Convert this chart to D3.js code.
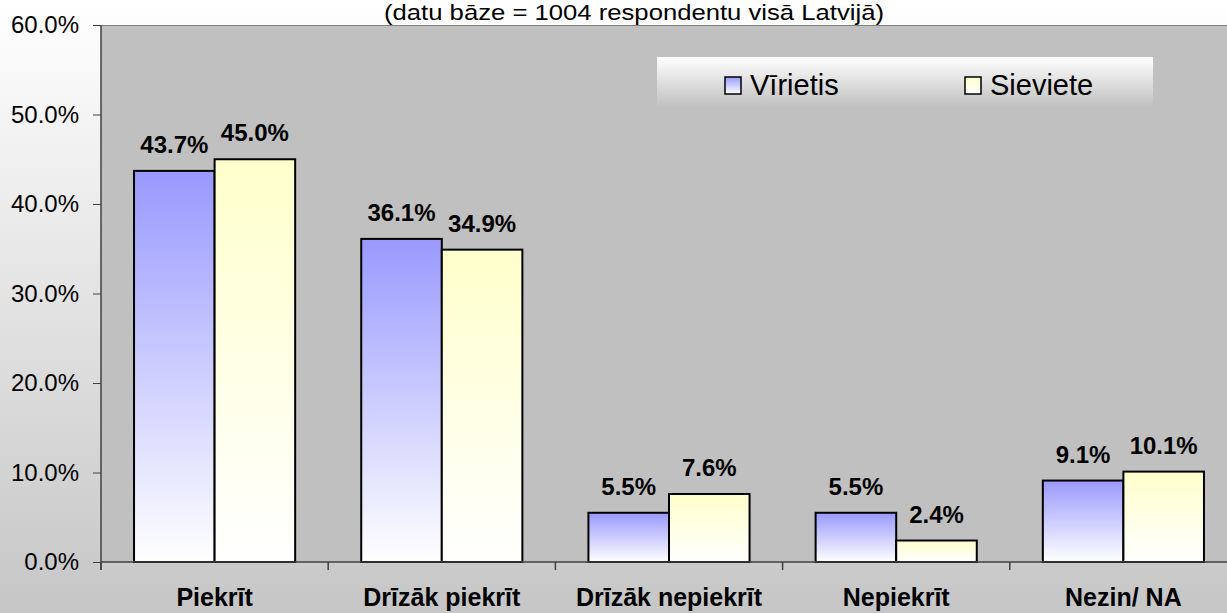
<!DOCTYPE html>
<html>
<head>
<meta charset="utf-8">
<script src="https://cdn.jsdelivr.net/npm/d3@7"></script>
<style>
  body { margin: 0; overflow: hidden; }
  svg { display: block; font-family: Arial, "Liberation Sans", sans-serif; }
</style>
</head>
<body>
<svg id="chart" width="1227" height="613"></svg>
<script>
const categories = ["Piekrīt", "Drīzāk piekrīt", "Drīzāk nepiekrīt", "Nepiekrīt", "Nezin/ NA"];
const seriesNames = ["Vīrietis", "Sieviete"];
const men = [43.7, 36.1, 5.5, 5.5, 9.1];
const women = [45.0, 34.9, 7.6, 2.4, 10.1];
const yTicks = [0, 10, 20, 30, 40, 50, 60];
const subtitle = "(datu bāze = 1004 respondentu visā Latvijā)";

const W = 1227, H = 613;
const margin = { top: 25, left: 101, bottom: 51 };
const bandW = 227.2;
const svg = d3.select("#chart");
const defs = svg.append("defs");

function vGrad(id, top, bottom) {
  const g = defs.append("linearGradient").attr("id", id)
    .attr("x1", 0).attr("y1", 0).attr("x2", 0).attr("y2", 1);
  g.append("stop").attr("offset", "0%").attr("stop-color", top);
  g.append("stop").attr("offset", "100%").attr("stop-color", bottom);
}
vGrad("bgGrad", "#ffffff", "#c6c6c6");
vGrad("legGrad", "#ffffff", "#c0c0c0");
vGrad("menGrad", "#9999ff", "#ffffff");
vGrad("womenGrad", "#ffffcc", "#ffffff");
const fills = ["url(#menGrad)", "url(#womenGrad)"];

// page background
svg.append("rect").attr("width", W).attr("height", H).attr("fill", "url(#bgGrad)");

const x = d3.scaleBand()
  .domain(categories)
  .range([margin.left, margin.left + bandW * categories.length]);
const y = d3.scaleLinear().domain([0, 60]).range([H - margin.bottom, margin.top]);
const x1 = d3.scaleBand().domain(seriesNames).range([0, x.bandwidth()]).paddingOuter(0.41).paddingInner(0);

// plot area
svg.append("rect")
  .attr("x", margin.left).attr("y", y(60))
  .attr("width", W - margin.left).attr("height", y(0) - y(60))
  .attr("fill", "#c0c0c0");
svg.append("line")
  .attr("x1", margin.left).attr("x2", W)
  .attr("y1", y(60) + 0.5).attr("y2", y(60) + 0.5)
  .attr("stroke", "#808080").attr("stroke-width", 1);

// subtitle - wider face in the original, so stretch it
svg.append("text")
  .attr("x", 634).attr("y", 20)
  .attr("text-anchor", "middle")
  .attr("textLength", 500)
  .attr("lengthAdjust", "spacingAndGlyphs")
  .style("font-size", "22px")
  .attr("fill", "#000")
  .text(subtitle);

// bars
const rows = categories.map((c, i) => ({ cat: c, vals: [men[i], women[i]] }));
const groups = svg.append("g").selectAll("g")
  .data(rows)
  .join("g")
  .attr("transform", d => `translate(${x(d.cat)},0)`);

groups.selectAll("rect")
  .data(d => d.vals.map((v, k) => ({ v, k, s: seriesNames[k] })))
  .join("rect")
  .attr("x", d => x1(d.s))
  .attr("y", d => y(d.v))
  .attr("width", x1.bandwidth())
  .attr("height", d => y(0) - y(d.v))
  .attr("fill", d => fills[d.k])
  .attr("stroke", "#000")
  .attr("stroke-width", 2);

groups.selectAll("text.val")
  .data(d => d.vals.map((v, k) => ({ v, k, s: seriesNames[k] })))
  .join("text")
  .attr("class", "val")
  .attr("x", d => x1(d.s) + x1.bandwidth() / 2)
  .attr("y", d => y(d.v) - 18)
  .attr("text-anchor", "middle")
  .style("font-size", "24px")
  .style("font-weight", "bold")
  .text(d => d.v.toFixed(1) + "%");

// y axis
const yAxis = svg.append("g")
  .attr("transform", `translate(${margin.left},0)`)
  .call(d3.axisLeft(y).tickValues(yTicks).tickSize(8).tickPadding(14)
    .tickFormat(d => d.toFixed(1) + "%"));
yAxis.select(".domain").remove();
yAxis.selectAll(".tick line").attr("stroke", "#404040");
yAxis.selectAll("text")
  .style("font-size", "24px")
  .style("font-family", "Arial, 'Liberation Sans', sans-serif")
  .attr("fill", "#000");
svg.append("line")
  .attr("x1", margin.left).attr("x2", margin.left)
  .attr("y1", y(60)).attr("y2", y(0) + 8)
  .attr("stroke", "#404040").attr("stroke-width", 1.5);

// x axis
const xAxis = svg.append("g")
  .attr("transform", `translate(0,${y(0)})`)
  .call(d3.axisBottom(x).tickSize(0).tickPadding(0));
xAxis.select(".domain").remove();
xAxis.selectAll("text")
  .attr("dy", null)
  .attr("y", 44)
  .style("font-size", "25px")
  .style("font-weight", "bold")
  .style("font-family", "Arial, 'Liberation Sans', sans-serif")
  .attr("fill", "#000");
svg.append("line")
  .attr("x1", margin.left).attr("x2", W)
  .attr("y1", y(0)).attr("y2", y(0))
  .attr("stroke", "#404040").attr("stroke-width", 1.5);
svg.append("g").selectAll("line")
  .data(d3.range(categories.length + 1))
  .join("line")
  .attr("x1", i => margin.left + i * bandW).attr("x2", i => margin.left + i * bandW)
  .attr("y1", y(0)).attr("y2", y(0) + 8)
  .attr("stroke", "#404040").attr("stroke-width", 1.5);

// legend
const leg = svg.append("g").attr("transform", "translate(657,57)");
leg.append("rect").attr("width", 496).attr("height", 50).attr("fill", "url(#legGrad)");
const legX = [68, 308];
seriesNames.forEach((name, k) => {
  leg.append("rect")
    .attr("x", legX[k]).attr("y", 20).attr("width", 16).attr("height", 17)
    .attr("fill", fills[k]).attr("stroke", "#000").attr("stroke-width", 1.5);
  leg.append("text")
    .attr("x", legX[k] + 25).attr("y", 38)
    .style("font-size", "29px")
    .text(name);
});
</script>
</body>
</html>
